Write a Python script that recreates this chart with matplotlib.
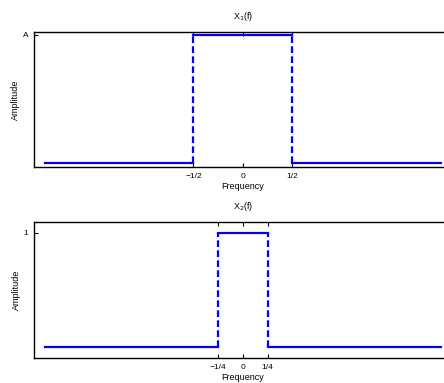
import numpy as np
import matplotlib.pyplot as plt

plt.rcParams['font.family'] = ['Liberation Sans', 'DejaVu Sans']

# spectrum data
f_range = [-2.0, 2.0]
edge1 = 0.5
edge2 = 0.25
amp_hi = 1.0
amp_lo = 0.0

ticks1 = [-0.5, 0, 0.5]
ticklabels1 = ['\u22121/2', '0', '1/2']
ticks2 = [-0.25, 0, 0.25]
ticklabels2 = ['\u22121/4', '0', '1/4']

titles = ['X$_1$(f)', 'X$_2$(f)']
ylabels_tick = ['A', '1']

fig = plt.figure(figsize=(4.44, 3.83), dpi=100)
ax1 = fig.add_axes([0.0766, 0.564, 0.941, 0.3525])
ax2 = fig.add_axes([0.0766, 0.0653, 0.941, 0.3551])

blue = '#0000ff'


def draw(ax, edge, ticks, tlabels, title, ytl, ylim):
    ax.plot([f_range[0], -edge], [amp_lo, amp_lo], color=blue, lw=1.6)
    ax.plot([-edge, edge], [amp_hi, amp_hi], color=blue, lw=1.6)
    ax.plot([edge, f_range[1]], [amp_lo, amp_lo], color=blue, lw=1.6)
    ax.plot([-edge, -edge], [amp_lo, amp_hi], color=blue, lw=1.6, ls=(0, (3, 1.5)))
    ax.plot([edge, edge], [amp_lo, amp_hi], color=blue, lw=1.6, ls=(0, (3, 1.5)))
    ax.set_xlim(-2.11, 2.11)
    ax.set_ylim(*ylim)
    ax.set_xticks(ticks)
    ax.set_xticklabels(tlabels)
    ax.set_yticks([amp_hi])
    ax.set_yticklabels([ytl])
    ax.tick_params(direction='in', top=True, right=False, labelsize=6,
                   length=3, width=0.8, pad=4)
    ax.set_title(title, fontsize=6.5, pad=9)
    ax.set_xlabel('Frequency', fontsize=6.5, labelpad=2)
    ax.set_ylabel('Amplitude', fontsize=6.5, labelpad=2)
    for s in ax.spines.values():
        s.set_linewidth(1.0)


draw(ax1, edge1, ticks1, ticklabels1, titles[0], ylabels_tick[0], (-0.031, 1.023))
draw(ax2, edge2, ticks2, ticklabels2, titles[1], ylabels_tick[1], (-0.096, 1.096))

fig.savefig('out.png', dpi=100)
